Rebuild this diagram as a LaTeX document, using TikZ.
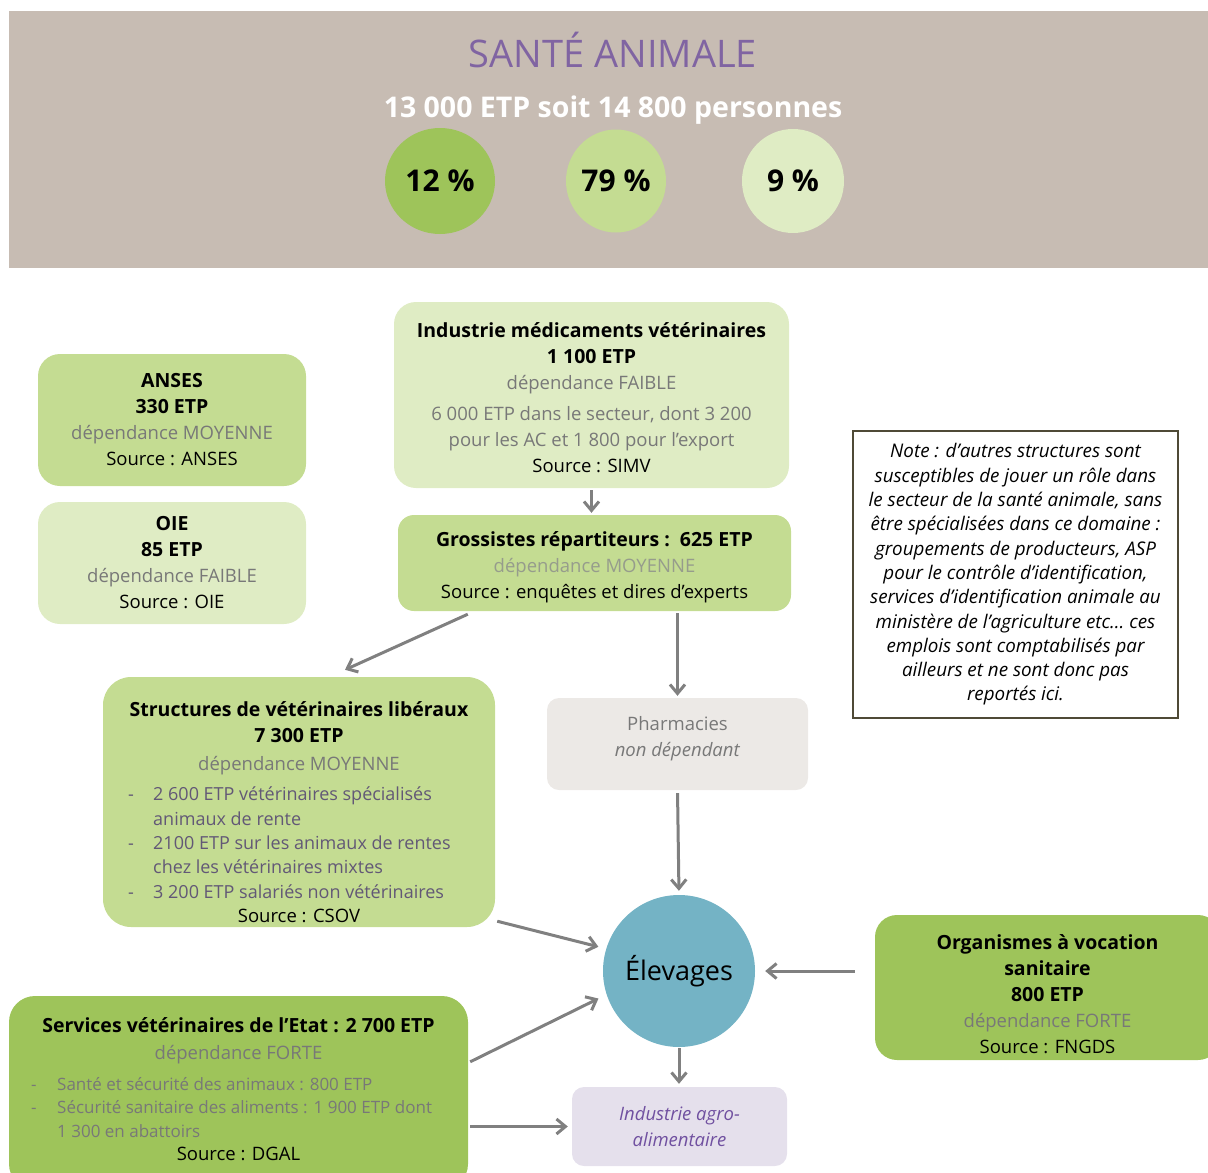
\documentclass[tikz,border=0pt]{standalone}
\usepackage{fontspec}
\setmainfont{Open Sans}
\usetikzlibrary{arrows.meta, positioning, shapes.geometric}

\definecolor{headbg}{RGB}{199,188,179}
\definecolor{titlepurple}{RGB}{128,100,162}
\definecolor{stronggreen}{RGB}{158,196,90}
\definecolor{medgreen}{RGB}{196,220,146}
\definecolor{lightgreen}{RGB}{223,236,196}
\definecolor{pharmagray}{RGB}{236,233,230}
\definecolor{agrolav}{RGB}{229,224,236}
\definecolor{agropurple}{RGB}{112,80,160}
\definecolor{elevblue}{RGB}{116,179,197}
\definecolor{arrowgray}{RGB}{128,128,128}
\definecolor{depgray}{RGB}{120,120,120}
\definecolor{lightdep}{RGB}{150,156,140}
\definecolor{listpurple}{RGB}{98,88,118}
\definecolor{noteborder}{RGB}{79,74,54}

\newcommand{\bodysize}{\fontsize{18.5}{26}\selectfont}
\newcommand{\hd}[1]{{\fontsize{19.5}{26}\selectfont\bfseries #1}}
\newcommand{\depg}[1]{{\color{depgray}#1}}

\begin{document}
\begin{tikzpicture}[
    x=1pt, y=-1pt,
    >={Straight Barb[length=9pt,width=15pt]},
    arr/.style={->, line width=3pt, draw=arrowgray},
    box/.style={rounded corners=22pt, inner sep=0pt, align=center, font=\bodysize},
    pct/.style={ellipse, inner sep=0pt, font=\fontsize{30}{32}\selectfont\bfseries},
    lbl/.style={inner sep=0pt, font=\bodysize},
]
\clip (0,0) rectangle (1208,1173);
% ============================================================
% HEADER
% ============================================================
\node[fill=headbg, minimum width=1199, minimum height=257, inner sep=0pt] (band) at (608.5,139.5) {};
\node[inner sep=0pt, font=\fontsize{38}{42}\selectfont, text=titlepurple] (title) at (613,50) {SANTÉ ANIMALE};
\node[inner sep=0pt, font=\fontsize{28.5}{30}\selectfont\bfseries, text=white] (total) at (613,110) {13 000 ETP soit 14 800 personnes};
\node[pct, fill=stronggreen, minimum width=110, minimum height=106] (p12) at (440,181) {12 \%};
\node[pct, fill=medgreen, minimum width=100, minimum height=103] (p79) at (616,181) {79 \%};
\node[pct, fill=lightgreen, minimum width=102, minimum height=104] (p9) at (793,181) {9 \%};
% ============================================================
% LEFT COLUMN: ANSES, OIE
% ============================================================
\node[box, fill=medgreen, minimum width=268, minimum height=132] (anses) at (172,420)
    {\hd{ANSES}\\\hd{330 ETP}\\\depg{dépendance MOYENNE}\\Source : ANSES};
\node[box, fill=lightgreen, minimum width=268, minimum height=122] (oie) at (172,563)
    {\hd{OIE}\\\hd{85 ETP}\\\depg{dépendance FAIBLE}\\Source : OIE};
% ============================================================
% MIDDLE: industry, wholesalers, pharmacies
% ============================================================
\node[box, fill=lightgreen, minimum width=395, minimum height=186] (medic) at (591.5,395) {};
\node[lbl, align=center] (medictexte) at (591.5,398)
    {\hd{Industrie médicaments vétérinaires}\\\hd{1 100 ETP}\\\depg{dépendance FAIBLE}\\[5pt]
     \depg{6 000 ETP dans le secteur, dont 3 200}\\\depg{pour les AC et 1 800 pour l’export}\\Source : SIMV};
\node[box, fill=medgreen, rounded corners=16pt, minimum width=393, minimum height=96] (gross) at (594.5,563) {};
\node[lbl, align=center] (grosstexte) at (594.5,567)
    {\hd{Grossistes répartiteurs :\ \ 625 ETP}\\{\color{lightdep}dépendance MOYENNE}\\Source : enquêtes et dires d’experts};
\node[box, fill=pharmagray, rounded corners=12pt, minimum width=261, minimum height=92] (pharma) at (677.5,744) {};
\node[lbl, align=center, text=depgray] (pharmatexte) at (677.5,739) {Pharmacies\\\textit{non dépendant}};
% --- note (right) ---
\node[draw=noteborder, line width=2pt, fill=white, minimum width=325, minimum height=287, inner sep=0pt,
      align=center, font=\fontsize{18.8}{24.3}\selectfont\itshape] (note) at (1015.5,574.5)
    {Note : d’autres structures sont\\susceptibles de jouer un rôle dans\\le secteur de la santé animale, sans\\
     être spécialisées dans ce domaine :\\groupements de producteurs, ASP\\pour le contrôle d’identification,\\
     services d’identification animale au\\ministère de l’agriculture etc… ces\\emplois sont comptabilisés par\\
     ailleurs et ne sont donc pas\\reportés ici.};
% ============================================================
% Structures de vétérinaires libéraux
% ============================================================
\node[box, fill=medgreen, rounded corners=28pt, minimum width=392, minimum height=250] (liberaux) at (299,802) {};
\node[lbl, align=center, anchor=base] (liberauxtitre) at (299,770)
    {\hd{Structures de vétérinaires libéraux}\\\hd{7 300 ETP}\\[2pt]\depg{dépendance MOYENNE}};
\node[lbl, align=left, anchor=base west, font=\fontsize{18}{24.3}\selectfont, text=listpurple] (liberauxliste) at (128,898)
    {\makebox[25pt][l]{-}2 600 ETP vétérinaires spécialisés\\\hspace*{25pt}animaux de rente\\
     \makebox[25pt][l]{-}2100 ETP sur les animaux de rentes\\\hspace*{25pt}chez les vétérinaires mixtes\\
     \makebox[25pt][l]{-}3 200 ETP salariés non vétérinaires};
\node[lbl, anchor=base] (liberauxsource) at (299,922) {Source : CSOV};
% ============================================================
% BOTTOM: Elevages and its neighbours
% ============================================================
\node[circle, fill=elevblue, minimum size=152, inner sep=0pt, font=\fontsize{27}{30}\selectfont] (elev) at (679,971) {Élevages};
\node[box, fill=stronggreen, minimum width=345, minimum height=145] (org) at (1047.5,987.5) {};
\node[lbl, align=center] (orgtexte) at (1047.5,994.5)
    {\hd{Organismes à vocation}\\\hd{sanitaire}\\\hd{800 ETP}\\\depg{dépendance FORTE}\\Source : FNGDS};
\node[box, fill=stronggreen, rounded corners=26pt, minimum width=459, minimum height=194] (serv) at (238.5,1093) {};
\node[lbl, align=center, anchor=base] (servtitre) at (238.5,1059)
    {\hd{Services vétérinaires de l’Etat : 2 700 ETP}\\[1pt]\depg{dépendance FORTE}};
\node[lbl, align=left, anchor=base west, font=\fontsize{17}{23.5}\selectfont, text=depgray] (servliste) at (31,1137)
    {\makebox[26pt][l]{-}Santé et sécurité des animaux : 800 ETP\\
     \makebox[26pt][l]{-}Sécurité sanitaire des aliments : 1 900 ETP dont\\\hspace*{26pt}1 300 en abattoirs};
\node[lbl, anchor=base] (servsource) at (238.5,1160) {Source : DGAL};
\node[box, fill=agrolav, rounded corners=12pt, minimum width=215, minimum height=79,
      font=\fontsize{18.5}{26}\selectfont\itshape, text=agropurple] (agro) at (679.5,1126.5) {Industrie agro-\\alimentaire};
% ============================================================
% Arrows
% ============================================================
\draw[arr, shorten <=2pt, shorten >=2pt] (medic.south) -- (medic.south |- gross.north);
\draw[arr] ([xshift=70pt,yshift=-3pt]gross.south west) -- ([xshift=46pt,yshift=7pt]liberaux.north);
\draw[arr, shorten <=2pt, shorten >=2pt] (gross.south -| pharma.north) -- (pharma.north);
\draw[arr, shorten <=3pt, shorten >=4pt] (pharma.south) -- (elev.north);
\draw[arr, shorten >=8pt] ([xshift=2pt,yshift=6pt]liberaux.south east) -- (elev.163);
\draw[arr, shorten >=9pt] ([xshift=2pt,yshift=-66pt]serv.north east) -- (elev.198);
\draw[arr, shorten <=20pt, shorten >=10pt] (org.west |- elev.east) -- (elev.east);
\draw[arr, shorten <=1pt, shorten >=3pt] (elev.south) -- (elev.south |- agro.north);
\draw[arr, shorten <=2pt, shorten >=4pt] (serv.east |- agro.west) -- (agro.west);
\end{tikzpicture}
\end{document}
